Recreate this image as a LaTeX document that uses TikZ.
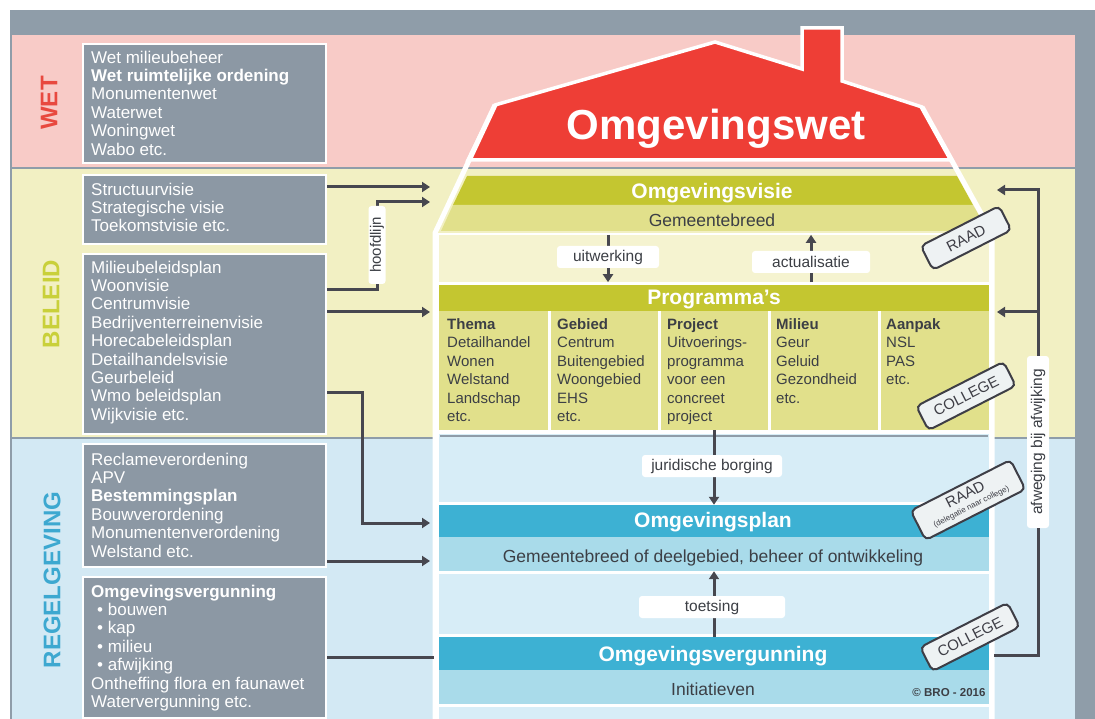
\documentclass[tikz,border=0pt]{standalone}
\usepackage{fontspec}
\setmainfont{Liberation Sans}
\usepackage{tikz}
\usetikzlibrary{arrows.meta}
\definecolor{framegray}{HTML}{8F9DA9}
\definecolor{wetbg}{HTML}{F8CBC7}
\definecolor{beleidbg}{HTML}{F2F0C3}
\definecolor{regelbg}{HTML}{D3E9F4}
\definecolor{boxgray}{HTML}{8C98A4}
\definecolor{roofred}{HTML}{EE3E36}
\definecolor{wetred}{HTML}{E8493F}
\definecolor{beleidgreen}{HTML}{C9D03A}
\definecolor{regelblue}{HTML}{3DA8D0}
\definecolor{olive}{HTML}{C4C630}
\definecolor{lolive}{HTML}{E1E08B}
\definecolor{paleyel}{HTML}{F5F3D0}
\definecolor{teal}{HTML}{3DB1D3}
\definecolor{lteal}{HTML}{A9DBEA}
\definecolor{iblue}{HTML}{D7EDF7}
\definecolor{darktext}{HTML}{3C3F45}
\definecolor{tagline}{HTML}{3E3E46}
\definecolor{tagfill}{HTML}{EEF2F3}
\definecolor{connline}{HTML}{47474F}

\begin{document}
\begin{tikzpicture}[x=1pt,y=-1pt,
  gbox/.style={fill=boxgray,draw=white,line width=2pt,anchor=north west,inner sep=0pt},
  btxt/.style={anchor=north west,inner sep=0pt,align=left,text=white,font=\fontsize{17}{18.4}\selectfont},
  sect/.style={rotate=90,inner sep=0pt,font=\fontsize{24}{24}\selectfont\bfseries},
  panel/.style={minimum width=550pt,inner sep=0pt,draw=none},
  band/.style={anchor=base,inner sep=0pt,text=white,font=\fontsize{21}{21}\selectfont\bfseries},
  sub/.style={anchor=base,inner sep=0pt,text=darktext,font=\fontsize{17.5}{17.5}\selectfont},
  ctxt/.style={anchor=north west,inner sep=0pt,align=left,text=darktext,font=\fontsize{15}{18.5}\selectfont},
  lbl/.style={fill=white,rounded corners=3pt,text=darktext,inner sep=0pt,minimum height=22pt,font=\fontsize{15.5}{15.5}\selectfont},
  tag/.style={draw=tagline,fill=tagfill,line width=2pt,rounded corners=5pt,rotate=27,text=tagline,inner sep=0pt,minimum height=27pt,font=\fontsize{15}{15}\selectfont},
  arr/.style={draw=connline,line width=3pt,-{Triangle[length=8pt,width=10pt]}},
  lin/.style={draw=connline,line width=3pt},
  wall/.style={draw=white,line width=5pt,line join=miter}]
\useasboundingbox (0,0) rectangle (1095,719);
\fill[white] (0,0) rectangle (1095,719);
\fill[framegray] (10,10) rectangle (1095,719);
\fill[wetbg] (12,35) rectangle (1075,167);
\fill[beleidbg] (12,169) rectangle (1075,437);
\fill[regelbg] (12,439) rectangle (1075,719);

\node[sect,text=wetred] (lwet) at (49,103) {WET};
\node[sect,text=beleidgreen] (lbeleid) at (51,304) {BELEID};
\node[sect,text=regelblue] (lregel) at (52,580) {REGELGEVING};

\node[gbox,minimum width=243pt,minimum height=119pt] (bwet) at (82,43) {};
\node[gbox,minimum width=243pt,minimum height=69pt] (bstruct) at (82,174) {};
\node[gbox,minimum width=243pt,minimum height=180pt] (bbeleid) at (82,253) {};
\node[gbox,minimum width=243pt,minimum height=123pt] (bregel) at (82,443) {};
\node[gbox,minimum width=243pt,minimum height=141pt] (bvergun) at (82,576) {};
\node[btxt] (twet) at (91,50.6) {Wet milieubeheer\\\textbf{Wet ruimtelijke ordening}\\Monumentenwet\\Waterwet\\Woningwet\\Wabo etc.};
\node[btxt] (tstruct) at (91,182.6) {Structuurvisie\\Strategische visie\\Toekomstvisie etc.};
\node[btxt] (tbeleid) at (91,260.6) {Milieubeleidsplan\\Woonvisie\\Centrumvisie\\Bedrijventerreinenvisie\\Horecabeleidsplan\\Detailhandelsvisie\\Geurbeleid\\Wmo beleidsplan\\Wijkvisie etc.};
\node[btxt] (tregel) at (91,452.6) {Reclameverordening\\APV\\\textbf{Bestemmingsplan}\\Bouwverordening\\Monumentenverordening\\Welstand etc.};
\node[btxt] (tvergun) at (91,584.5) {\textbf{Omgevingsvergunning}\\\hspace{6pt}\textbullet\ bouwen\\\hspace{6pt}\textbullet\ kap\\\hspace{6pt}\textbullet\ milieu\\\hspace{6pt}\textbullet\ afwijking\\Ontheffing flora en faunawet\\Watervergunning etc.};

\fill[white] (437,233) rectangle (990,719);
\fill[olive] (467,176) -- (957,176) -- (973,205) -- (453,205) -- cycle;
\fill[lolive] (453,205) -- (973,205) -- (988,231) -- (441,231) -- cycle;
\node[panel,fill=paleyel,minimum height=47pt] (visgap) at (714,258.5) {};
\node[panel,fill=olive,minimum height=26pt] (prog) at (714,298) {};
\node[panel,fill=lolive,minimum height=119pt] (cols) at (714,370.5) {};
\node[panel,fill=iblue,minimum height=68pt] (gap1) at (714,468) {};
\node[panel,fill=teal,minimum height=32pt] (plan) at (714,521) {};
\node[panel,fill=lteal,minimum height=34pt] (plansub) at (714,554) {};
\node[panel,fill=iblue,minimum height=60pt] (gap2) at (714,604) {};
\node[panel,fill=teal,minimum height=33pt] (verg) at (714,653.5) {};
\node[panel,fill=lteal,minimum height=34pt] (vergsub) at (714,687) {};
\node[panel,fill=iblue,minimum height=12pt] (gap3) at (714,713) {};
\draw[framegray,line width=2pt] (440,436) -- (988,436);
\draw[white,line width=2.5pt] (549.5,311) -- (549.5,430) (659.5,311) -- (659.5,430) (769.5,311) -- (769.5,430) (879.5,311) -- (879.5,430);

\node[band,font=\fontsize{21}{21}\selectfont\bfseries] (tvisie) at (712,199) {Omgevingsvisie};
\node[sub] (tgem) at (712,227) {Gemeentebreed};
\node[band] (tprog) at (714,305) {Programma's};
\node[ctxt] (cthema) at (447,318) {\textbf{Thema}\\Detailhandel\\Wonen\\Welstand\\Landschap\\etc.};
\node[ctxt] (cgebied) at (557,318) {\textbf{Gebied}\\Centrum\\Buitengebied\\Woongebied\\EHS\\etc.};
\node[ctxt] (cproject) at (667,318) {\textbf{Project}\\Uitvoerings-\\programma\\voor een\\concreet\\project};
\node[ctxt] (cmilieu) at (776,318) {\textbf{Milieu}\\Geur\\Geluid\\Gezondheid\\etc.};
\node[ctxt] (caanpak) at (886,318) {\textbf{Aanpak}\\NSL\\PAS\\etc.};
\node[band] (tplan) at (713,527) {Omgevingsplan};
\node[sub] (tplansub) at (713,562) {Gemeentebreed of deelgebied, beheer of ontwikkeling};
\node[band] (tverg) at (713,661) {Omgevingsvergunning};
\node[sub] (tinit) at (713,695) {Initiatieven};
\node[anchor=base,inner sep=0pt,text=darktext,font=\fontsize{11.5}{11.5}\selectfont\bfseries] (copy) at (949,696) {© BRO - 2016};

\fill[roofred,draw=white,line width=3.5pt,line join=miter] (468,160) -- (495,105) -- (715,42) -- (802,69) -- (802,28) -- (842,28) -- (842,81) -- (922,107) -- (952,160) -- cycle;
\node[anchor=base,inner sep=0pt,text=white,font=\fontsize{42}{42}\selectfont\bfseries] (twet2) at (716,140) {Omgevingswet};
\draw[wall] (435,719) -- (435,233) -- (495,105);
\draw[wall] (922,107) -- (992,233) -- (992,719);

\coordinate (uitwC) at (608,257);
\coordinate (actC) at (811,262);
\coordinate (jurC) at (712,466);
\coordinate (toetC) at (712,607);
\draw[arr] (visgap.north -| uitwC) -- (visgap.south -| uitwC);
\draw[arr] (visgap.south -| actC) -- (visgap.north -| actC);
\draw[arr] (cols.south) -- (plan.north);
\draw[arr] (verg.north) -- (plansub.south);
\node[lbl,minimum width=102pt] (uitw) at (uitwC) {uitwerking};
\node[lbl,minimum width=118pt] (act) at (actC) {actualisatie};
\node[lbl,minimum width=140pt] (jur) at (jurC) {juridische borging};
\node[lbl,minimum width=146pt] (toets) at (toetC) {toetsing};

\coordinate (inA) at (430,187);
\coordinate (inB) at (430,202);
\coordinate (inC) at (430,312);
\coordinate (inD) at (430,523);
\coordinate (inE) at (430,561);
\coordinate (inF) at (434,657);
\coordinate (hbend) at (377,245);
\coordinate (hfoot) at (377,290);
\coordinate (wmo) at (362,392);
\draw[arr] (bstruct.east |- inA) -- (inA);
\draw[arr] (bbeleid.east |- hfoot) -- (hfoot) -- (hbend) |- (inB);
\node[lbl,rotate=90,minimum width=78pt,minimum height=17pt,font=\fontsize{15}{15}\selectfont] (hoofd) at (hbend) {hoofdlijn};
\draw[arr] (bbeleid.east |- inC) -- (inC);
\draw[arr] (bbeleid.east |- wmo) -- (wmo) |- (inD);
\draw[arr] (bregel.east |- inE) -- (inE);
\draw[lin] (bvergun.east |- inF) -- (inF);

\coordinate (outA) at (997,190);
\coordinate (outB) at (997,312);
\coordinate (outC) at (994,655);
\node[lbl,rotate=90,minimum width=172pt,font=\fontsize{15.5}{15.5}\selectfont] (afw) at (1038,442) {afweging bij afwijking};
\draw[arr] (afw.east) |- (outA);
\draw[arr] (afw.east |- outB) -- (outB);
\draw[lin] (afw.west) |- (outC);

\node[tag,minimum width=88pt] (raad1) at (966,238) {RAAD};
\node[tag,minimum width=98pt] (coll1) at (966,396) {COLLEGE};
\node[tag,minimum width=112pt,minimum height=33pt,align=center] (raad2) at (968,500) {RAAD\\[-4pt]{\fontsize{8}{8}\selectfont(delegatie naar college)}};
\node[tag,minimum width=98pt] (coll2) at (970,637) {COLLEGE};
\end{tikzpicture}
\end{document}
